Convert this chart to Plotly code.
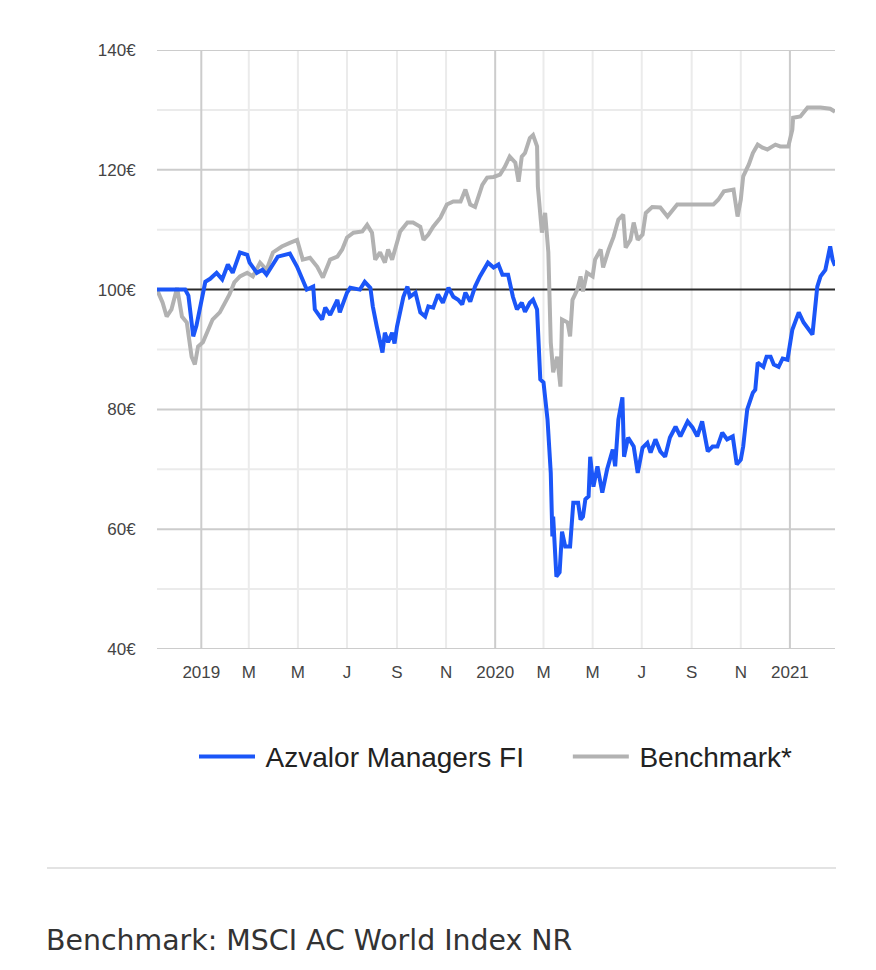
import plotly.graph_objects as go

# ---- data ----
fund_dates = ["2018-11-07","2018-12-12","2018-12-16","2018-12-22","2018-12-26","2018-12-29",
    "2019-01-06","2019-01-12","2019-01-20","2019-01-27","2019-02-03","2019-02-09","2019-02-18","2019-02-27",
    "2019-03-02","2019-03-11","2019-03-18","2019-03-23","2019-04-06","2019-04-21","2019-04-30",
    "2019-05-12","2019-05-20","2019-05-22","2019-05-31","2019-06-04","2019-06-10","2019-06-19","2019-06-22",
    "2019-07-01","2019-07-05","2019-07-17","2019-07-23","2019-07-30","2019-08-02","2019-08-07","2019-08-14",
    "2019-08-17","2019-08-21","2019-08-26","2019-08-29","2019-09-01","2019-09-09","2019-09-14","2019-09-17",
    "2019-09-24","2019-09-30","2019-10-06","2019-10-10","2019-10-16","2019-10-22","2019-10-28","2019-11-04",
    "2019-11-10","2019-11-16","2019-11-21","2019-11-25","2019-12-01","2019-12-07","2019-12-13","2019-12-23",
    "2019-12-30","2020-01-05","2020-01-10","2020-01-17","2020-01-23","2020-01-28","2020-02-03","2020-02-07",
    "2020-02-13","2020-02-17","2020-02-22","2020-02-26","2020-03-01","2020-03-06","2020-03-10","2020-03-12",
    "2020-03-13","2020-03-17","2020-03-21","2020-03-24","2020-03-28","2020-04-03","2020-04-07","2020-04-13",
    "2020-04-16","2020-04-19","2020-04-22","2020-04-26","2020-04-28","2020-05-02","2020-05-07","2020-05-13",
    "2020-05-19","2020-05-26","2020-05-29","2020-06-02","2020-06-07","2020-06-09","2020-06-14","2020-06-21",
    "2020-06-26","2020-07-02","2020-07-08","2020-07-12","2020-07-18","2020-07-24","2020-07-30","2020-08-05",
    "2020-08-12","2020-08-18","2020-08-27","2020-09-02","2020-09-08","2020-09-14","2020-09-21","2020-09-27",
    "2020-10-03","2020-10-09","2020-10-15","2020-10-22","2020-10-27","2020-11-01","2020-11-04","2020-11-09",
    "2020-11-16","2020-11-19","2020-11-22","2020-11-29","2020-12-03","2020-12-08","2020-12-12","2020-12-18",
    "2020-12-23","2020-12-29","2021-01-04","2021-01-12","2021-01-18","2021-01-24","2021-01-29","2021-02-04",
    "2021-02-08","2021-02-14","2021-02-17","2021-02-20","2021-02-23","2021-02-26"]
fund_values = [100, 100, 99, 92.2, 94, 96,
    101.3, 101.8, 102.8, 101.7, 104.2, 102.8, 106.2, 105.8,
    104.5, 102.8, 103.3, 102.5, 105.5, 106, 103.8,
    100, 100.5, 96.7, 95, 97, 95.8, 98.3, 96.2,
    99.5, 100.3, 100, 101.3, 100.3, 97.2, 93.8, 89.5,
    92.8, 91.2, 92.8, 91, 93.8, 98.8, 100.5, 98.8,
    99.5, 96.2, 95.5, 97.2, 97, 99.2, 97.8, 100.3,
    98.8, 98.3, 97.5, 99.5, 98, 100.5, 102.2, 104.5,
    103.7, 104.2, 102.5, 102.5, 98.8, 96.7, 97.8, 96.3,
    97.8, 98.3, 96.7, 85, 84.5, 78.3, 69.4, 58.8,
    62.1, 52.1, 52.8, 59.6, 57.1, 57.1, 64.4, 64.4,
    61.6, 62.1, 65, 65.5, 72.1, 67.1, 70.5, 66.1,
    70, 73.3, 70.5, 78.3, 82, 72.1, 75.3, 73.8,
    69.4, 73.6, 74.4, 72.8, 75, 73, 72.1, 75.3,
    77.1, 75.5, 78, 77, 75.5, 78, 73, 73.8,
    73.8, 76.1, 75, 75.5, 70.8, 71.6, 73.8, 80,
    82.8, 83.3, 87.8, 87.1, 88.8, 88.8, 87.5, 87.1,
    88.5, 88.3, 93.3, 96.2, 94.5, 93.5, 92.5, 100.5,
    102.2, 103.3, 105.5, 107.2, 105, 104]

bench_dates = ["2018-11-07","2018-11-14","2018-11-19","2018-11-25","2018-12-02","2018-12-08","2018-12-14",
    "2018-12-20","2018-12-24","2018-12-28","2019-01-03","2019-01-09","2019-01-15","2019-01-24","2019-01-30",
    "2019-02-05","2019-02-11","2019-02-18","2019-02-27","2019-03-06","2019-03-15","2019-03-23","2019-03-31",
    "2019-04-11","2019-04-21","2019-04-30","2019-05-07","2019-05-16","2019-05-25","2019-06-01","2019-06-10",
    "2019-06-19","2019-06-25","2019-07-01","2019-07-09","2019-07-20","2019-07-26","2019-08-01","2019-08-05",
    "2019-08-11","2019-08-17","2019-08-21","2019-08-26","2019-08-30","2019-09-05","2019-09-14","2019-09-21",
    "2019-09-30","2019-10-04","2019-10-10","2019-10-16","2019-10-25","2019-11-02","2019-11-10","2019-11-19",
    "2019-11-25","2019-12-01","2019-12-07","2019-12-16","2019-12-22","2019-12-30","2020-01-07","2020-01-13",
    "2020-01-19","2020-01-26","2020-01-30","2020-02-03","2020-02-07","2020-02-13","2020-02-17","2020-02-22",
    "2020-02-23","2020-02-28","2020-03-03","2020-03-07","2020-03-10","2020-03-13","2020-03-18","2020-03-22",
    "2020-03-24","2020-03-31","2020-04-03","2020-04-06","2020-04-12","2020-04-16","2020-04-19","2020-04-24",
    "2020-05-01","2020-05-04","2020-05-11","2020-05-14","2020-05-21","2020-05-27","2020-06-02","2020-06-08",
    "2020-06-11","2020-06-17","2020-06-21","2020-06-26","2020-07-02","2020-07-06","2020-07-14","2020-07-24",
    "2020-08-02","2020-08-14","2020-09-03","2020-09-28","2020-10-04","2020-10-11","2020-10-23","2020-10-28",
    "2020-11-01","2020-11-04","2020-11-11","2020-11-16","2020-11-22","2020-11-28","2020-12-04","2020-12-14",
    "2020-12-20","2020-12-30","2021-01-04","2021-01-05","2021-01-14","2021-01-23","2021-02-08","2021-02-20",
    "2021-02-26"]
bench_values = [100, 97.8, 95.5, 96.7, 100.3, 95.5, 94.5,
    88.8, 87.5, 90.5, 91.2, 93.3, 95, 96.2, 97.8,
    99.2, 101.2, 102.2, 102.8, 102.2, 104.5, 103.3, 106.2,
    107.2, 107.8, 108.3, 105, 105.3, 103.8, 102, 105,
    105.5, 106.7, 108.7, 109.5, 109.7, 110.8, 109.5, 105,
    106.2, 104.5, 106.7, 105, 107, 109.7, 111.2, 111.2,
    110.5, 108.3, 109.2, 110.5, 112, 114.2, 114.7, 114.7,
    116.7, 114.2, 113.8, 117.5, 118.7, 118.8, 119.2, 120.5,
    122.2, 121.2, 118, 122.2, 122.8, 125.3, 125.8, 123.9,
    117.2, 109.5, 112.8, 106.2, 91.2, 86.2, 88.8, 83.8,
    95, 94.5, 92.2, 98.3, 100, 102.2, 99.7, 102.8,
    102.2, 105, 106.7, 103.7, 106.7, 108.8, 111.7, 112.5,
    107, 108.3, 111.2, 108.3, 109.2, 112.8, 113.8, 113.7,
    112.2, 114.2, 114.2, 114.2, 115, 116.4, 116.7, 112.2,
    115, 118.9, 120.9, 122.8, 124.2, 123.7, 123.4, 124.2,
    123.9, 123.9, 126.7, 128.7, 128.9, 130.4, 130.4, 130.2,
    129.7]

tick_dates = ["2019-01-01","2019-03-01","2019-05-01","2019-07-01","2019-09-01","2019-11-01",
              "2020-01-01","2020-03-01","2020-05-01","2020-07-01","2020-09-01","2020-11-01","2021-01-01"]
tick_labels = ["2019","M","M","J","S","N","2020","M","M","J","S","N","2021"]
y_ticks = [40, 60, 80, 100, 120, 140]
y_minor = [50, 70, 90, 110, 130]
y_labels = [f"{v}€" for v in y_ticks]
base_value = 100

series_names = ["Azvalor Managers FI", "Benchmark*"]
footnote = "Benchmark: MSCI AC World Index NR"

BLUE = "#1b56f8"
GREY = "#b2b2b2"
LIGHT = "#ebebeb"
DARK = "#cccccc"

fig = go.Figure()
fig.add_trace(go.Scatter(x=bench_dates, y=bench_values, mode="lines",
                         name="\u2009" + series_names[1],
                         line=dict(color=GREY, width=4), legendrank=2))
fig.add_trace(go.Scatter(x=fund_dates, y=fund_values, mode="lines",
                         name="\u2009" + series_names[0] + "\u00a0" * 5,
                         line=dict(color=BLUE, width=4), legendrank=1))

# gridlines drawn as shapes (light first, dark after, baseline last)
shapes = []
for d, lab in zip(tick_dates, tick_labels):
    if not lab.isdigit():
        shapes.append(dict(type="line", xref="x", yref="paper", x0=d, x1=d, y0=0, y1=1,
                           line=dict(color=LIGHT, width=2), layer="below"))
for v in y_minor:
    shapes.append(dict(type="line", xref="paper", yref="y", x0=0, x1=1, y0=v, y1=v,
                       line=dict(color=LIGHT, width=2), layer="below"))
for d, lab in zip(tick_dates, tick_labels):
    if lab.isdigit():
        shapes.append(dict(type="line", xref="x", yref="paper", x0=d, x1=d, y0=0, y1=1,
                           line=dict(color=DARK, width=2), layer="below"))
for v in y_ticks:
    if v != base_value:
        shapes.append(dict(type="line", xref="paper", yref="y", x0=0, x1=1, y0=v, y1=v,
                           line=dict(color=DARK, width=2), layer="below"))
shapes.append(dict(type="line", xref="paper", yref="y", x0=0, x1=1, y0=base_value, y1=base_value,
                   line=dict(color="#2b2b2b", width=2), layer="below"))
# separator line
shapes.append(dict(type="line", xref="paper", yref="paper", x0=-0.1622, x1=1.0015, y0=-0.3656, y1=-0.3656,
                   line=dict(color="#e3e3e3", width=2)))

fig.update_layout(
    width=868, height=962,
    margin=dict(l=149, r=41, t=42, b=321),
    paper_bgcolor="white", plot_bgcolor="rgba(0,0,0,0)",
    font=dict(family="Liberation Sans, Arial, sans-serif", color="#444444"),
    xaxis=dict(range=["2018-11-07", "2021-02-26"], tickmode="array", tickvals=tick_dates, ticktext=tick_labels,
               showgrid=False, showline=False, zeroline=False,
               ticks="outside", ticklen=8, tickcolor="rgba(0,0,0,0)",
               tickfont=dict(size=17, color="#444444")),
    yaxis=dict(range=[40, 140], tickmode="array", tickvals=y_ticks, ticktext=y_labels,
               showgrid=False, showline=False, zeroline=False,
               ticks="outside", ticklen=17, tickcolor="rgba(0,0,0,0)",
               tickfont=dict(size=17, color="#444444")),
    legend=dict(orientation="h", x=0.5, xanchor="center", y=-0.18, yanchor="middle",
                font=dict(size=28, color="#222222", family="Liberation Sans, Arial, sans-serif"),
                itemwidth=56, traceorder="normal"),
    shapes=shapes,
    annotations=[dict(text=footnote, xref="paper", yref="paper", x=-0.1667, y=-0.486,
                      xanchor="left", yanchor="middle", showarrow=False,
                      font=dict(size=28.4, color="#333333", family="DejaVu Sans, sans-serif"))],
    showlegend=True,
)

fig.write_html("out.html")
